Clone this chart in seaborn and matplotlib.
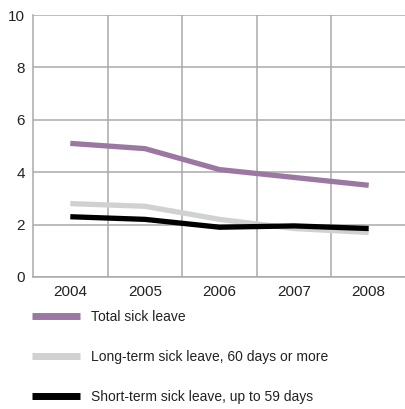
import matplotlib
matplotlib.use("Agg")
import matplotlib.pyplot as plt
import numpy as np
import pandas as pd
import seaborn as sns

years = ["2004", "2005", "2006", "2007", "2008"]
total = [5.1, 4.9, 4.1, 3.8, 3.5]
long_term = [2.8, 2.7, 2.2, 1.85, 1.7]
short_term = [2.3, 2.2, 1.9, 1.95, 1.85]
series_names = [
    "Total sick leave",
    "Long-term sick leave, 60 days or more",
    "Short-term sick leave, up to 59 days",
]
colors = ["#9b78a1", "#d0d1d2", "#000000"]

df = pd.DataFrame({
    "x": list(range(len(years))) * 3,
    "value": total + long_term + short_term,
    "series": [n for n in series_names for _ in years],
})

sns.set_theme(style="white")
plt.rcParams["font.family"] = ["Liberation Sans", "DejaVu Sans"]

fig = plt.figure(figsize=(4.06, 4.09), dpi=100)
ax = fig.add_axes([33 / 406, (409 - 277) / 409, 373 / 406, (277 - 15) / 409])

grid_col = "#a9a9a9"
sns.lineplot(data=df, x="x", y="value", hue="series", hue_order=series_names,
             palette=colors, linewidth=3.8, ax=ax, legend=True,
             solid_capstyle="butt", solid_joinstyle="round", zorder=3)

ax.set_xlim(-0.5, 4.5)
ax.set_ylim(0, 10)
ax.set_yticks(np.arange(0, 11, 2))
ax.set_xticks(range(len(years)))
ax.set_xticklabels(years)
ax.set_xticks(np.arange(0.5, 4.5, 1), minor=True)
ax.grid(False)
ax.grid(True, axis="y", which="major", color=grid_col, linewidth=1.1, zorder=0)
ax.grid(True, axis="x", which="minor", color=grid_col, linewidth=1.1, zorder=0)
ax.tick_params(which="both", length=0)
ax.tick_params(axis="both", labelsize=11, colors="#222222", pad=6)
ax.set_xlabel("")
ax.set_ylabel("")
for side in ["top", "right"]:
    ax.spines[side].set_visible(False)
for side in ["left", "bottom"]:
    ax.spines[side].set_color(grid_col)
    ax.spines[side].set_linewidth(1.1)

handles, labels = ax.get_legend_handles_labels()
ax.legend_.remove()
leg = fig.legend(handles, labels, loc="upper left",
                 bbox_to_anchor=(26 / 406, 1 - 304 / 409),
                 frameon=False, fontsize=10, handlelength=3.5,
                 handletextpad=0.8, labelspacing=1.88, borderaxespad=0)
for line in leg.get_lines():
    line.set_linewidth(5)
for t in leg.get_texts():
    t.set_color("#222222")

fig.savefig("out.png", dpi=100)
